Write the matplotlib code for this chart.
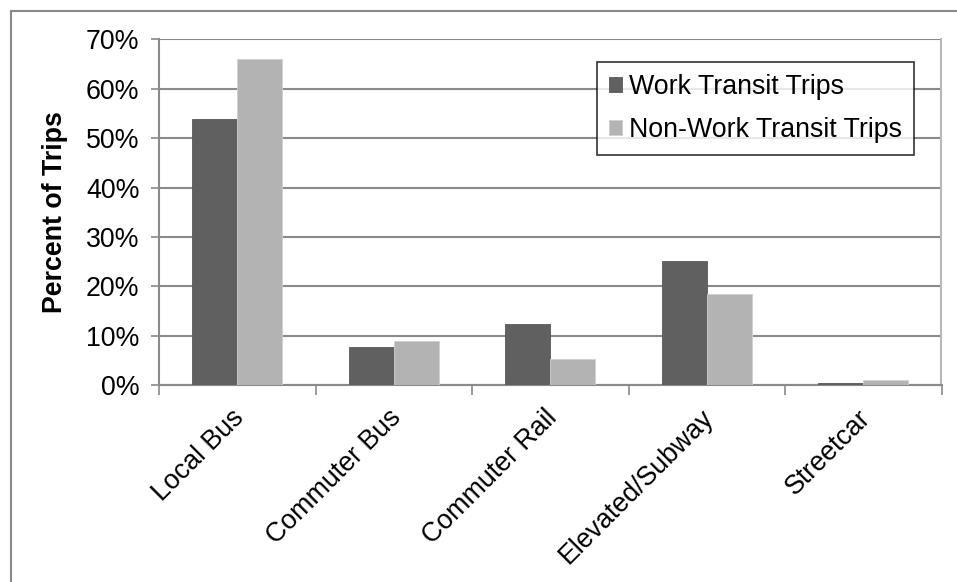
import matplotlib
matplotlib.use("Agg")
import matplotlib.pyplot as plt
import numpy as np
from matplotlib.lines import Line2D
from matplotlib.ticker import FuncFormatter
from matplotlib.transforms import ScaledTranslation

plt.rcParams['font.family'] = ['Liberation Sans', 'DejaVu Sans']

categories = ["Local Bus", "Commuter Bus", "Commuter Rail", "Elevated/Subway", "Streetcar"]
work = [53.8, 7.8, 12.4, 25.1, 0.5]
nonwork = [66.0, 9.0, 5.3, 18.4, 1.0]
series_names = ["Work Transit Trips", "Non-Work Transit Trips"]
yticks = [0, 10, 20, 30, 40, 50, 60, 70]

W, H = 957, 582
fig = plt.figure(figsize=(W / 100, H / 100), dpi=100)
ax = fig.add_axes([159 / W, 1 - 385.3 / H, (941.5 - 159) / W, (385.3 - 39.3) / H])

x = np.arange(len(categories))
bw = 0.2875
dark = "#606060"
light = "#b3b3b3"
ax.bar(x - bw / 2, work, bw, color=dark, edgecolor="#585858", linewidth=0.6, label=series_names[0], zorder=3)
ax.bar(x + bw / 2, nonwork, bw, color=light, edgecolor="#d0d0d0", linewidth=0.6, label=series_names[1], zorder=3)

ax.set_xlim(-0.5, len(categories) - 0.5)
ax.set_ylim(0, 70)
ax.set_yticks(yticks)
ax.yaxis.set_major_formatter(FuncFormatter(lambda v, p: f"{int(v)}%"))
ax.grid(axis='y', color="#8a8a8a", linewidth=1.5, zorder=0)
ax.set_axisbelow(True)

fs = 19.3
ax.tick_params(axis='y', labelsize=fs, length=6, width=1.2, color="#8a8a8a", pad=8)
ax.set_xticks(x)
ax.set_xticklabels(categories, rotation=45, ha='right', rotation_mode='anchor', fontsize=fs)
ax.tick_params(axis='x', which='major', length=0, pad=14)
ax.set_xticks(np.arange(-0.5, len(categories), 1.0), minor=True)
ax.tick_params(axis='x', which='minor', length=7, width=1.2, color="#8a8a8a")
shift = ScaledTranslation(-6 / 100, 0, fig.dpi_scale_trans)
for lbl in ax.get_xticklabels():
    lbl.set_transform(lbl.get_transform() + shift)

for s in ['left', 'bottom']:
    ax.spines[s].set_color("#8a8a8a")
    ax.spines[s].set_linewidth(1.5)
ax.spines['top'].set_visible(False)
ax.spines['right'].set_color("#b8b8b8")
ax.spines['right'].set_linewidth(1.5)

ax.set_ylabel("Percent of Trips", fontsize=fs, fontweight='bold', labelpad=13)

leg = ax.legend(loc='upper right', bbox_to_anchor=(914 / W, 1 - 62 / H), bbox_transform=fig.transFigure,
                fontsize=fs, frameon=True, fancybox=False, handlelength=0.5, handleheight=0.5,
                handletextpad=0.25, borderpad=0.45, labelspacing=0.62, borderaxespad=0)
leg.get_frame().set_edgecolor("black")
leg.get_frame().set_linewidth(1.2)

# outer chart frame (left and top edges visible)
fig.add_artist(Line2D([10.5 / W, 10.5 / W], [0, 1 - 10.5 / H], transform=fig.transFigure, color="#8a8a8a", linewidth=1.5))
fig.add_artist(Line2D([10.5 / W, 1], [1 - 10.5 / H, 1 - 10.5 / H], transform=fig.transFigure, color="#8a8a8a", linewidth=1.5))

fig.savefig("out.png", dpi=100, facecolor="white")
